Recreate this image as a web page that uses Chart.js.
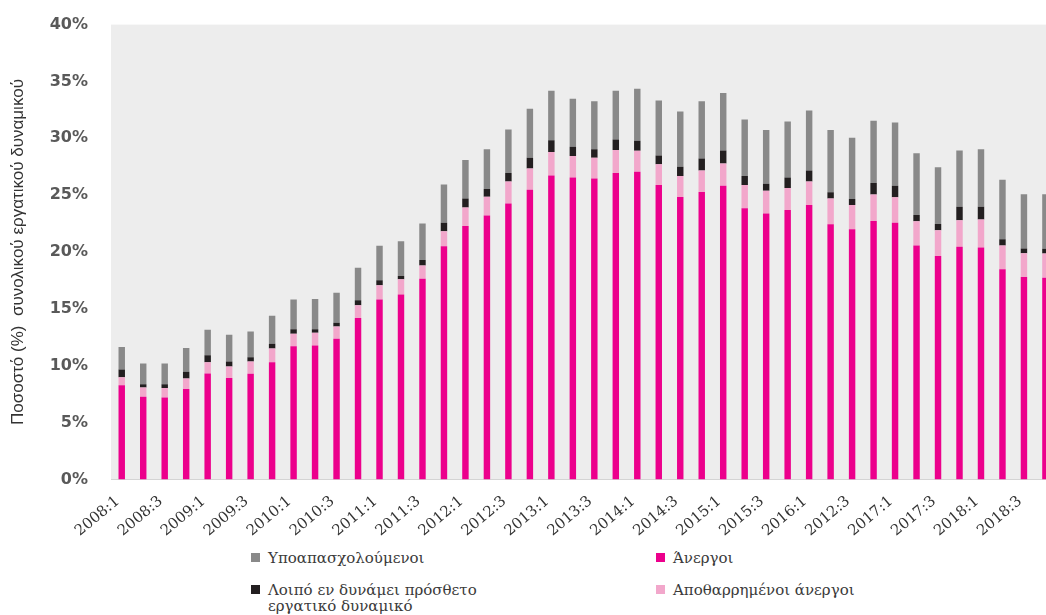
<!DOCTYPE html>
<html>
<head>
<meta charset="utf-8">
<script src="https://cdn.jsdelivr.net/npm/chart.js@4/dist/chart.umd.min.js"></script>
<style>
  html, body { margin: 0; padding: 0; background: #fff; overflow: hidden; }
  #wrap { position: relative; width: 1046px; height: 615px; overflow: hidden; }
  #box { position: absolute; left: 0; top: 0; width: 1062px; height: 540px; }
  .leg { position: absolute; font-family: "DejaVu Serif", serif; font-size: 15px; color: #3a3a3a; line-height: 16px; white-space: pre-line; }
  .leg i { position: absolute; left: -17px; top: 3px; width: 9px; height: 9px; }
</style>
</head>
<body>
<div id="wrap">
  <div id="box"><canvas id="chart"></canvas></div>
  <div id="legend"></div>
</div>
<script>
// quarters 2008:1 .. 2018:4
var categories = [
  '2008:1','2008:2','2008:3','2008:4','2009:1','2009:2','2009:3','2009:4',
  '2010:1','2010:2','2010:3','2010:4','2011:1','2011:2','2011:3','2011:4',
  '2012:1','2012:2','2012:3','2012:4','2013:1','2013:2','2013:3','2013:4',
  '2014:1','2014:2','2014:3','2014:4','2015:1','2015:2','2015:3','2015:4',
  '2016:1','2016:2','2016:3','2016:4','2017:1','2017:2','2017:3','2017:4',
  '2018:1','2018:2','2018:3','2018:4'
];

// labels shown under every second bar (as printed in the source)
var tickLabels = [
  '2008:1','2008:3','2009:1','2009:3','2010:1','2010:3','2011:1','2011:3',
  '2012:1','2012:3','2013:1','2013:3','2014:1','2014:3','2015:1','2015:3',
  '2016:1','2012:3','2017:1','2017:3','2018:1','2018:3'
];

var yTicks = [0, 5, 10, 15, 20, 25, 30, 35, 40];

// Άνεργοι
var unemployed = [
  8.29, 7.27, 7.21, 7.96, 9.33, 8.92, 9.30, 10.31,
  11.71, 11.79, 12.37, 14.20, 15.82, 16.26, 17.65, 20.50,
  22.30, 23.22, 24.27, 25.48, 26.74, 26.56, 26.47, 26.94,
  27.05, 25.89, 24.85, 25.28, 25.83, 23.86, 23.40, 23.69,
  24.13, 22.44, 22.00, 22.73, 22.58, 20.58, 19.65, 20.47,
  20.41, 18.49, 17.80, 17.75
];

// Αποθαρρημένοι άνεργοι
var discouraged = [
  0.69, 0.81, 0.84, 0.93, 0.98, 1.02, 1.07, 1.20,
  1.10, 1.11, 1.08, 1.13, 1.26, 1.34, 1.17, 1.33,
  1.62, 1.65, 1.94, 1.87, 2.05, 1.88, 1.83, 2.03,
  1.86, 1.83, 1.83, 1.89, 1.95, 2.03, 2.00, 1.94,
  2.08, 2.26, 2.13, 2.32, 2.24, 2.12, 2.26, 2.32,
  2.46, 2.09, 2.09, 2.12
];

// Λοιπό εν δυνάμει πρόσθετο εργατικό δυναμικό
var otherPotential = [
  0.70, 0.29, 0.32, 0.58, 0.61, 0.43, 0.38, 0.43,
  0.40, 0.31, 0.34, 0.44, 0.43, 0.29, 0.48, 0.75,
  0.78, 0.67, 0.73, 0.95, 1.05, 0.82, 0.75, 0.93,
  0.87, 0.76, 0.81, 1.05, 1.16, 0.79, 0.61, 0.93,
  0.96, 0.56, 0.54, 1.02, 1.01, 0.55, 0.56, 1.19,
  1.11, 0.55, 0.43, 0.43
];

// Υποαπασχολούμενοι
var underemployed = [
  1.96, 1.83, 1.83, 2.09, 2.24, 2.35, 2.26, 2.46,
  2.61, 2.67, 2.64, 2.84, 3.05, 3.07, 3.20, 3.37,
  3.39, 3.51, 3.83, 4.29, 4.35, 4.23, 4.21, 4.29,
  4.58, 4.84, 4.87, 5.04, 5.05, 4.98, 4.73, 4.93,
  5.28, 5.48, 5.37, 5.48, 5.57, 5.43, 4.99, 4.96,
  5.07, 5.22, 4.76, 4.78
];

// plot background
var plotBg = {
  id: 'plotBg',
  beforeDraw: function(chart) {
    var a = chart.chartArea, ctx = chart.ctx;
    ctx.save();
    ctx.fillStyle = '#ededed';
    ctx.fillRect(a.left, a.top, a.right - a.left, a.bottom - a.top);
    ctx.restore();
  }
};

function ds(label, data, color) {
  return {
    label: label, data: data, backgroundColor: color,
    borderWidth: 0, barPercentage: 0.3, categoryPercentage: 1
  };
}

var chart = new Chart(document.getElementById('chart'), {
  type: 'bar',
  data: {
    labels: categories,
    datasets: [
      ds('Άνεργοι', unemployed, '#ec008c'),
      ds('Αποθαρρημένοι άνεργοι', discouraged, '#f2a7cb'),
      ds('Λοιπό εν δυνάμει πρόσθετο\nεργατικό δυναμικό', otherPotential, '#231f20'),
      ds('Υποαπασχολούμενοι', underemployed, '#898989')
    ]
  },
  options: {
    responsive: true,
    maintainAspectRatio: false,
    animation: false,
    layout: { padding: { top: 7, right: 0, left: 0, bottom: 0 } },
    plugins: { legend: { display: false }, tooltip: { enabled: false } },
    scales: {
      x: {
        stacked: true,
        grid: { display: false, drawTicks: true, tickLength: 8 },
        border: { display: true, color: '#d4d4d4', width: 1 },
        ticks: {
          autoSkip: false, maxRotation: 40, minRotation: 40,
          padding: 5, labelOffset: -4,
          color: '#333',
          font: { family: '"DejaVu Serif", serif', size: 15 },
          callback: function(v, i) { return i % 2 === 0 ? tickLabels[i / 2] : ''; }
        },
        afterFit: function(s) { s.height = 60.5; }
      },
      y: {
        stacked: true,
        min: 0, max: 40,
        afterBuildTicks: function(s) { s.ticks = yTicks.map(function(v) { return { value: v }; }); },
        grid: { display: false },
        border: { display: false },
        ticks: {
          padding: 15,
          color: '#595959',
          font: { family: '"DejaVu Sans", sans-serif', size: 16, weight: 'bold' },
          callback: function(v) { return v + '%'; }
        },
        title: {
          display: true,
          text: 'Ποσοστό (%)  συνολικού εργατικού δυναμικού',
          color: '#333',
          font: { family: '"Liberation Sans", sans-serif', size: 17 },
          padding: { top: 8, bottom: 0 }
        },
        afterFit: function(s) { s.width = 111; }
      }
    }
  },
  plugins: [plotBg]
});

// legend laid out as in the source: two columns, two rows
var legendPos = [
  { ds: 3, left: 268, top: 550 },
  { ds: 0, left: 673, top: 550 },
  { ds: 2, left: 268, top: 582 },
  { ds: 1, left: 673, top: 582 }
];
var legendEl = document.getElementById('legend');
legendPos.forEach(function(p) {
  var d = chart.data.datasets[p.ds];
  var el = document.createElement('div');
  el.className = 'leg';
  el.style.left = p.left + 'px';
  el.style.top = p.top + 'px';
  var sw = document.createElement('i');
  sw.style.background = d.backgroundColor;
  el.appendChild(sw);
  el.appendChild(document.createTextNode(d.label));
  legendEl.appendChild(el);
});
</script>
</body>
</html>
